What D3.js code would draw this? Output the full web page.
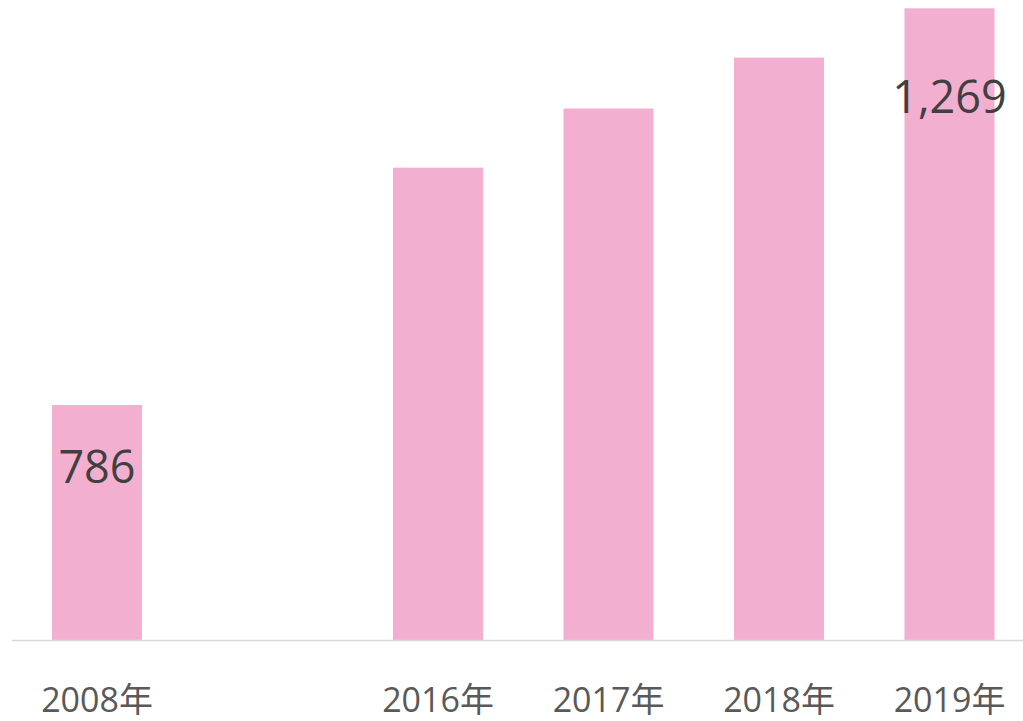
<!DOCTYPE html>
<html>
<head>
<meta charset="utf-8">
<script src="https://cdn.jsdelivr.net/npm/d3@7"></script>
<style>
  body { margin: 0; background: #fff; }
  text { font-family: "Open Sans", "Noto Sans CJK SC", sans-serif; }
</style>
</head>
<body>
<div id="chart"></div>
<script>
let width = 1023;
let height = 721;

// categories (one empty slot between 2008 and 2016)
const categories = ['2008年', '', '2016年', '2017年', '2018年', '2019年'];
const values = [786, null, 1075, 1147, 1209, 1269];
// only these bars carry a value label
const labelled = ['2008年', '2019年'];

const baseline = 640;

let svg = d3.select('#chart').append('svg')
    .attr('width', width)
    .attr('height', height);

let x = d3.scaleBand()
    .domain(categories.map((d, i) => i))
    .range([11.75, 11.75 + 1023])
    .paddingInner(0.472)
    .paddingOuter(0.236);

let y = d3.scaleLinear()
    .domain([500, 1269])
    .range([baseline, 8.3]);

let data = categories.map((c, i) => ({cat: c, i: i, value: values[i]}));

svg.selectAll('rect.bar')
    .data(data.filter(d => d.value != null))
    .enter()
    .append('rect')
    .attr('class', 'bar')
    .attr('x', d => x(d.i))
    .attr('y', d => y(d.value))
    .attr('width', x.bandwidth())
    .attr('height', d => baseline - y(d.value))
    .attr('fill', '#f3afd0');

// axis line
svg.append('line')
    .attr('x1', 11.75)
    .attr('x2', width)
    .attr('y1', baseline + 0.5)
    .attr('y2', baseline + 0.5)
    .attr('stroke', '#d9d9d9')
    .attr('stroke-width', 1.5);

// category labels
let xAxis = d3.axisBottom(x)
    .tickSize(0)
    .tickFormat(i => categories[i]);

let axisG = svg.append('g')
    .attr('transform', 'translate(0,' + baseline + ')')
    .call(xAxis);
axisG.select('.domain').remove();
axisG.selectAll('text')
    .attr('y', 72)
    .attr('dy', 0)
    .attr('font-size', 34)
    .attr('font-family', '"Open Sans", "Noto Sans CJK SC", sans-serif')
    .attr('fill', '#595959');

// value labels (placed inside the bar end)
const labelDrop = {'2008年': 78, '2019年': 105};
svg.selectAll('text.value')
    .data(data.filter(d => labelled.includes(d.cat)))
    .enter()
    .append('text')
    .attr('class', 'value')
    .attr('x', d => x(d.i) + x.bandwidth() / 2)
    .attr('y', d => y(d.value) + labelDrop[d.cat])
    .attr('text-anchor', 'middle')
    .attr('font-size', 45)
    .attr('fill', '#404040')
    .text(d => d3.format(',')(d.value));
</script>
</body>
</html>
